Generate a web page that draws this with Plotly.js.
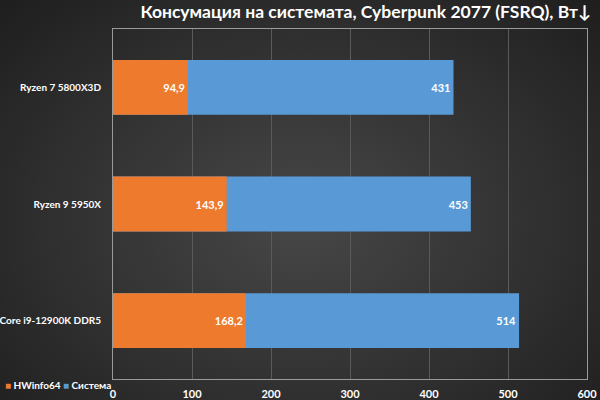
<!DOCTYPE html>
<html>
<head>
<meta charset="utf-8">
<script src="https://cdn.plot.ly/plotly-3.0.1.min.js"></script>
<style>
  html, body { margin: 0; padding: 0; }
  body {
    width: 600px;
    height: 400px;
    background: radial-gradient(ellipse at 50% 55%, #474747 0%, #353535 45%, #1e1e1e 100%);
  }
  #chart { width: 600px; height: 400px; }
</style>
</head>
<body>
<div id="chart"></div>
<script>
let cpus = ['Ryzen 7 5800X3D', 'Ryzen 9 5950X', 'Core i9-12900K DDR5'];
let hwinfo = [94.9, 143.9, 168.2];
let system = [431, 453, 514];
let xticks = [0, 100, 200, 300, 400, 500, 600];
let seriesNames = ['HWinfo64', 'Система'];
let seriesColors = ['#ee7a2e', '#5899d6'];

let fam = 'Lato, "Open Sans", sans-serif';
let font = { family: fam, color: '#ffffff', size: 11, weight: 'bold' };

let data = [
  {
    type: 'bar',
    orientation: 'h',
    y: cpus,
    x: system,
    name: seriesNames[1],
    marker: { color: seriesColors[1] },
    texttemplate: '%{x}',
    textposition: 'inside',
    insidetextanchor: 'end',
    constraintext: 'none',
    textangle: 0,
    textfont: font,
    hoverinfo: 'none',
  },
  {
    type: 'bar',
    orientation: 'h',
    y: cpus,
    x: hwinfo,
    name: seriesNames[0],
    marker: { color: seriesColors[0] },
    texttemplate: '%{x:.1f}',
    textposition: 'inside',
    insidetextanchor: 'end',
    constraintext: 'none',
    textangle: 0,
    textfont: font,
    hoverinfo: 'none',
  },
];

// legend drawn as a compact line of text at the bottom left, like the original
let legendText = seriesNames
  .map((n, i) => '<span style="color:' + seriesColors[i] + '">■</span> ' + n)
  .join(' ');

Plotly.newPlot(
  'chart',
  data,
  {
    width: 600,
    height: 400,
    paper_bgcolor: 'rgba(0,0,0,0)',
    plot_bgcolor: 'rgba(0,0,0,0)',
    separators: ', ',
    barmode: 'overlay',
    bargap: 0.53,
    margin: { t: 29, r: 13, b: 21, l: 113 },
    font: font,
    showlegend: false,
    title: {
      text: 'Консумация на системата, Cyberpunk 2077 (FSRQ), Вт↓',
      font: { family: fam, color: '#ffffff', size: 17.5, weight: 'bold' },
      x: 0.985,
      xanchor: 'right',
      y: 0.985,
      yanchor: 'top',
    },
    xaxis: {
      range: [0, 600],
      tickvals: xticks,
      showgrid: true,
      gridcolor: '#5a5a5a',
      gridwidth: 1,
      showline: true,
      linecolor: '#9a9a9a',
      linewidth: 1,
      mirror: true,
      zeroline: false,
      ticks: '',
      ticklabelstandoff: 5,
      tickfont: font,
      fixedrange: true,
    },
    yaxis: {
      autorange: 'reversed',
      showline: true,
      linecolor: '#9a9a9a',
      linewidth: 1,
      mirror: true,
      ticks: '',
      ticklabelstandoff: 9,
      tickfont: { family: fam, color: '#ffffff', size: 10, weight: 'bold' },
      fixedrange: true,
    },
    annotations: [
      {
        xref: 'paper',
        yref: 'paper',
        x: -0.233,
        y: -0.016,
        xanchor: 'left',
        yanchor: 'middle',
        showarrow: false,
        text: legendText,
        font: { family: fam, color: '#ffffff', size: 10, weight: 'bold' },
      },
    ],
  },
  { staticPlot: true }
);
</script>
</body>
</html>
